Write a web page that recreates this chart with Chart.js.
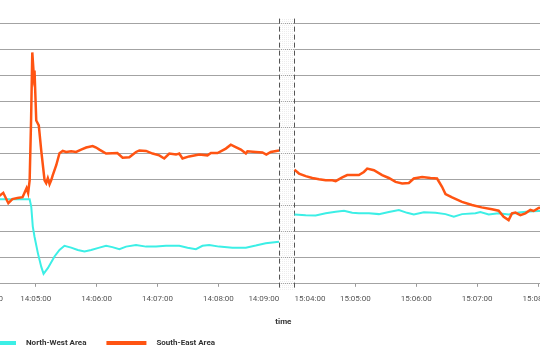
<!DOCTYPE html>
<html>
<head>
<meta charset="utf-8">
<script src="https://cdn.jsdelivr.net/npm/chart.js@4.4.1/dist/chart.umd.min.js"></script>
<style>
  html, body { margin: 0; padding: 0; background: #fff; }
  #wrap { position: relative; width: 540px; height: 360px; overflow: hidden; }
  #wrap canvas { position: absolute; left: 0; top: 0; }
</style>
</head>
<body>
<div id="wrap"><canvas id="areaChart" width="640" height="400"></canvas></div>
<script>
// Two recording runs shown on one broken time axis.
// Times are seconds past the hour (run 1 = 14:xx, run 2 = 15:xx).
const firstHour = 14;
const secondHour = 15;
const firstRunEnd = 540;     // 14:09:00
const secondRunStart = 240;  // 15:04:00

const nwTimes1 = [237, 264, 294, 295.6, 297.1, 298.8, 302.1, 305.4, 307.7, 311.9, 318.5, 323.4, 328.3, 334.9,
  341.4, 348, 354.6, 362.7, 369.3, 375.5, 382.4, 389, 398.8, 408.7, 418.5, 428.3, 441.4, 449.6, 457.8,
  464.3, 470.9, 480.7, 493.8, 507, 516.8, 526.6, 539.7];
const nwValues1 = [3.26, 3.25, 3.25, 2.96, 2.20, 1.81, 1.18, 0.66, 0.38, 0.60, 1.05, 1.30, 1.46, 1.39,
  1.30, 1.24, 1.30, 1.39, 1.46, 1.41, 1.33, 1.43, 1.49, 1.43, 1.43, 1.46, 1.46, 1.39, 1.33,
  1.46, 1.49, 1.43, 1.39, 1.39, 1.47, 1.56, 1.62];

const seTimes1 = [237, 250, 264, 268, 273, 277, 282, 287, 291, 292.5, 294, 295.4, 296.6, 298.1, 298.8,
  300.5, 303, 305.4, 308.7, 310.3, 311.9, 313.6, 315.2, 316.8, 320.2, 323.4, 326.6, 330, 334.9, 339.8,
  344.7, 349.7, 356.1, 359.5, 362.7, 369.3, 375.5, 380.4, 385.6, 392.2, 398.8, 402.1, 408.7, 415.1,
  421.7, 426.6, 431.6, 438.2, 441.4, 444.6, 451.2, 461.1, 469.2, 472.6, 479.1, 487.3, 492.2, 495.5,
  502.1, 507, 508.6, 516.8, 523.3, 527.2, 531.6, 539.7];
const seValues1 = [3.37, 3.40, 3.38, 3.50, 3.10, 3.26, 3.30, 3.33, 3.68, 3.49, 3.98, 6.28, 8.90, 8.01, 8.20,
  6.28, 6.09, 5.13, 3.98, 3.87, 4.06, 3.83, 3.98, 4.18, 4.56, 5.02, 5.11, 5.07, 5.10, 5.07,
  5.16, 5.24, 5.30, 5.24, 5.16, 5.01, 5.02, 5.03, 4.85, 4.87, 5.07, 5.13, 5.11, 5.01,
  4.94, 4.82, 5.01, 4.97, 5.01, 4.82, 4.90, 4.97, 4.94, 5.03, 5.03, 5.20, 5.35, 5.29,
  5.16, 5.01, 5.10, 5.07, 5.05, 4.97, 5.07, 5.13];

const nwTimes2 = [240, 251.1, 260.9, 270.8, 280.6, 288.8, 296.9, 303.5, 313.4, 323.2, 333, 342.9, 351,
  357.6, 367.5, 379, 388.8, 397, 405.1, 418.3, 423.2, 431.4, 441.2, 451, 460.9, 470.7, 480.6, 500];
const nwValues2 = [2.67, 2.64, 2.63, 2.71, 2.77, 2.81, 2.73, 2.71, 2.71, 2.68, 2.76, 2.84, 2.73,
  2.67, 2.75, 2.73, 2.68, 2.58, 2.68, 2.71, 2.76, 2.67, 2.71, 2.67, 2.74, 2.78, 2.80, 2.80];

const seTimes2 = [240, 244.5, 251.1, 257.6, 264.2, 270.8, 277.3, 280.6, 287.1, 292, 298.6, 303.5, 308.4,
  311.7, 318.3, 326.4, 333, 339.6, 346.1, 352.7, 357.6, 365.8, 374, 380.5, 385.4, 388.8, 395.3, 405.1,
  414.9, 424.4, 434.6, 441.2, 446.1, 451, 454.3, 457.7, 462.6, 467.5, 472.4, 475.7, 480.6, 490, 510];
const seValues2 = [4.39, 4.24, 4.14, 4.07, 4.02, 3.98, 3.98, 3.95, 4.09, 4.18, 4.18, 4.18, 4.30,
  4.43, 4.37, 4.18, 4.07, 3.92, 3.86, 3.88, 4.05, 4.11, 4.07, 4.05, 3.73, 3.45, 3.32, 3.15,
  3.03, 2.94, 2.87, 2.81, 2.58, 2.45, 2.71, 2.74, 2.64, 2.71, 2.84, 2.80, 2.92, 2.95, 2.95];

const tickLabels = ['14:04:00', '14:05:00', '14:06:00', '14:07:00', '14:08:00', '14:09:00',
  '15:04:00', '15:05:00', '15:06:00', '15:07:00', '15:08:00'];

const gapUnits = 14.9;       // width of the axis break
const pxPerUnit = 1.017;     // 61 px per minute
const pxPerStep = 26.1;      // one y grid step
const halfLabel = 15.3;      // half a tick label, in axis units

function toAxis(hour, sec) {
    if (hour === firstHour) return sec;
    return sec - secondRunStart + firstRunEnd + gapUnits;
}
function parseTime(str) {
    const p = str.split(':').map(Number);
    return { hour: p[0], sec: p[1] * 60 + p[2] };
}
function runPoints(times1, values1, times2, values2) {
    const pts = times1.map((t, i) => ({ x: toAxis(firstHour, t), y: values1[i] }));
    pts.push({ x: firstRunEnd + gapUnits / 2, y: null });
    times2.forEach((t, i) => pts.push({ x: toAxis(secondHour, t), y: values2[i] }));
    return pts;
}

const xMin = 237.2;
const breakStart = firstRunEnd;
const breakEnd = firstRunEnd + gapUnits;

// light dotted band with dashed edges where the axis is broken
const hatch = document.createElement('canvas');
hatch.width = 2; hatch.height = 2;
const hctx = hatch.getContext('2d');
hctx.fillStyle = '#ededed';
hctx.fillRect(0, 0, 1, 1);

const axisBreak = {
    id: 'axisBreak',
    beforeDatasetsDraw(chart) {
        const { ctx, chartArea, scales } = chart;
        const x1 = Math.round(scales.x.getPixelForValue(breakStart)) + 0.5;
        const x2 = Math.round(scales.x.getPixelForValue(breakEnd)) + 0.5;
        const top = scales.y.getPixelForValue(10.2);
        const bottom = chartArea.bottom + 6;
        ctx.save();
        ctx.fillStyle = ctx.createPattern(hatch, 'repeat');
        ctx.fillRect(x1, top, x2 - x1, bottom - top);
        ctx.strokeStyle = '#555';
        ctx.lineWidth = 1;
        ctx.setLineDash([5, 3]);
        ctx.beginPath();
        ctx.moveTo(x1, top); ctx.lineTo(x1, bottom);
        ctx.moveTo(x2, top); ctx.lineTo(x2, bottom);
        ctx.stroke();
        ctx.restore();
    }
};

const ctx = document.getElementById('areaChart').getContext('2d');
const areaChart = new Chart(ctx, {
    type: 'line',
    data: {
        datasets: [
            {
                label: 'North-West Area',
                data: runPoints(nwTimes1, nwValues1, nwTimes2, nwValues2),
                borderColor: '#3cefe6',
                backgroundColor: '#3cefe6',
                borderWidth: 2,
                pointRadius: 0,
                tension: 0,
                spanGaps: false,
                order: 1
            },
            {
                label: 'South-East Area',
                data: runPoints(seTimes1, seValues1, seTimes2, seValues2),
                borderColor: '#ff5412',
                backgroundColor: '#ff5412',
                borderWidth: 2.5,
                pointRadius: 0,
                tension: 0,
                spanGaps: false,
                order: 0
            }
        ]
    },
    options: {
        responsive: false,
        animation: false,
        events: [],
        layout: { padding: 0 },
        plugins: {
            tooltip: { enabled: false },
            legend: {
                position: 'bottom',
                align: 'start',
                labels: {
                    boxWidth: 40,
                    boxHeight: 4,
                    padding: 20,
                    color: '#333',
                    font: { family: 'Roboto', size: 8, weight: 'bold' },
                    sort: (a, b) => a.datasetIndex - b.datasetIndex,
                    generateLabels(chart) {
                        const items = Chart.defaults.plugins.legend.labels.generateLabels(chart);
                        items.forEach(it => { it.text = '   ' + it.text; it.lineWidth = 0; });
                        return items;
                    }
                }
            }
        },
        scales: {
            x: {
                type: 'linear',
                min: xMin,
                max: 850,
                afterBuildTicks(scale) {
                    scale.ticks = tickLabels.map((lbl, i) => {
                        const t = parseTime(lbl);
                        let v = toAxis(t.hour, t.sec);
                        if (i === 0) v = scale.min + halfLabel;           // pushed in from the left edge
                        if (t.hour === firstHour && t.sec === firstRunEnd) v = breakStart - halfLabel;
                        if (t.hour === secondHour && t.sec === secondRunStart) v = breakEnd + halfLabel;
                        return { value: v, label: lbl };
                    });
                },
                ticks: {
                    autoSkip: false,
                    maxRotation: 0,
                    padding: 7,
                    color: '#555',
                    font: { family: 'Roboto', size: 8 },
                    callback: (value, index) => tickLabels[index]
                },
                grid: {
                    drawOnChartArea: false,
                    drawTicks: true,
                    tickLength: 3,
                    tickColor: (c) => {
                        const i = c.index;
                        return (i === 0 || i === 5 || i === 6) ? 'rgba(0,0,0,0)' : '#999';
                    }
                },
                border: { color: '#a3a3a3', width: 1 },
                title: {
                    display: true,
                    text: 'time',
                    color: '#333',
                    font: { family: 'Roboto', size: 8, weight: 'bold' },
                    padding: { top: 7, bottom: -8 }
                }
            },
            y: {
                min: 0,
                max: 12,
                afterFit(scale) { scale.width = 16; },
                ticks: { display: false, stepSize: 1 },
                grid: { color: '#a3a3a3', lineWidth: 1, drawTicks: false },
                border: { display: false }
            }
        }
    },
    plugins: [axisBreak]
});

// keep 61 px per minute and 26.1 px per grid step, then crop the plot like the picture
const area = areaChart.chartArea;
areaChart.options.scales.x.max = xMin + (area.right - area.left) / pxPerUnit;
areaChart.options.scales.y.max = (area.bottom - area.top) / pxPerStep;
areaChart.update('none');
const canvas = document.getElementById('areaChart');
canvas.style.left = (-27.7 - areaChart.chartArea.left) + 'px';
canvas.style.top = (284 - areaChart.chartArea.bottom) + 'px';
</script>
</body>
</html>
